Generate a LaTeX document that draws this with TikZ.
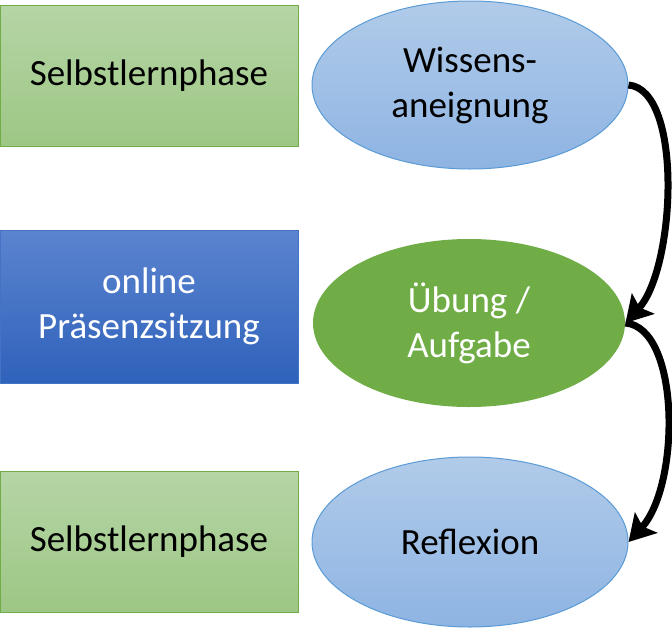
\documentclass[tikz,border=0pt]{standalone}
\usepackage{fontspec}
\setmainfont{Carlito}
\usetikzlibrary{arrows.meta, shapes.geometric}

\definecolor{greentop}{HTML}{B5D5A5}
\definecolor{greenbot}{HTML}{9DC785}
\definecolor{greenline}{HTML}{70AD47}
\definecolor{bluetop}{HTML}{5B84CF}
\definecolor{bluebot}{HTML}{2F62BB}
\definecolor{blueline}{HTML}{4472C4}
\definecolor{skytop}{HTML}{B1CBE9}
\definecolor{skybot}{HTML}{8EB4E3}
\definecolor{skyline}{HTML}{5B9BD5}

\begin{document}
\begin{tikzpicture}[x=1pt, y=-1pt,
  phasebox/.style={rectangle, minimum width=298pt, inner sep=0pt, line width=1pt,
    align=center, font=\fontsize{37}{45}\selectfont},
  selfbox/.style={phasebox, minimum height=141pt, draw=greenline, top color=greentop, bottom color=greenbot},
  onlinebox/.style={phasebox, minimum height=153pt, draw=blueline, top color=bluetop, bottom color=bluebot, text=white},
  activity/.style={ellipse, inner sep=0pt, line width=1pt, align=center,
    font=\fontsize{37}{45}\selectfont},
  skyell/.style={activity, draw=skyline, top color=skytop, bottom color=skybot},
  flow/.style={line width=7pt, -{Stealth[length=26pt, width=30pt, inset=5pt]}}]
  \useasboundingbox (0,0) rectangle (672,627);

  \node[selfbox] (self1) at (149,75.5) {Selbstlernphase};
  \node[onlinebox] (online) at (149,306.5) {online\\Präsenzsitzung};
  \node[selfbox] (self2) at (149,541.5) {Selbstlernphase};

  \node[skyell, minimum width=316pt, minimum height=168pt] (wissen) at (470,85) {Wissens-\\aneignung};
  \node[activity, fill=greenline, text=white, minimum width=312pt, minimum height=168pt] (uebung) at (469,323) {Übung /\\Aufgabe};
  \node[skyell, minimum width=316pt, minimum height=170pt] (reflex) at (470,542) {Reflexion};

  \draw[flow] (wissen.east) .. controls +(55,5) and +(50,-55) .. (uebung.east);
  \draw[flow] (uebung.east) .. controls +(55,5) and +(52,-57) .. (reflex.east);
\end{tikzpicture}
\end{document}
